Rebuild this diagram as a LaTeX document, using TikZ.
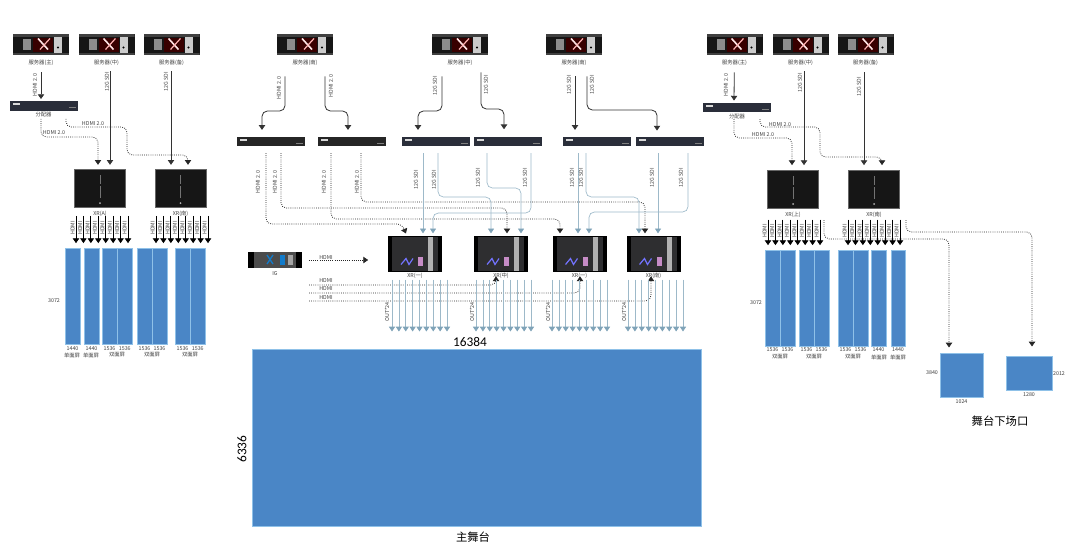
\documentclass[tikz,border=0pt]{standalone}
\usepackage{fontspec}
\setmainfont{Noto Sans CJK SC}
\newfontfamily\numfont{Carlito}
\usetikzlibrary{arrows.meta, calc}

\definecolor{panelblue}{HTML}{4A86C6}
\definecolor{paneledge}{HTML}{8FC1E8}
\definecolor{steelwire}{HTML}{9DB9C9}
\definecolor{steeltip}{HTML}{7FA3B8}
\definecolor{blackbody}{HTML}{161616}
\definecolor{procbody}{HTML}{2E2E30}
\definecolor{splitbody}{HTML}{2A2E3A}

\begin{document}
\begin{tikzpicture}[
    x=0.75pt, y=-0.75pt,
    lbl/.style={font=\fontsize{4}{4.5}\selectfont, inner sep=0pt, text=black!75},
    lblv/.style={lbl, rotate=90},
    serverbox/.style={rectangle, fill=blackbody, minimum width=42pt, minimum height=15.5pt, inner sep=0pt,
        path picture={
            \begin{scope}[shift={(path picture bounding box.center)}]
                \fill[black!75] (-28,-11) rectangle (28,-8);
                \fill[black!75] (-28,8) rectangle (28,11);
                \fill[red!22!black] (-8,-7) rectangle (12,7);
                \fill[black!45] (-18,-6) rectangle (-10,5);
                \draw[white!90!red, line width=1.2pt] (-3,-6) -- (7,5);
                \draw[white!70!red, line width=0.9pt] (9,-6) -- (-1,5);
                \fill[black!20] (13,-8) rectangle (21,8);
                \fill[black] (17,3) circle (1.2);
            \end{scope}
        }},
    xrbox/.style={rectangle, fill=blackbody, draw=black!60, line width=0.3pt, minimum width=38.5pt, minimum height=28.5pt, inner sep=0pt,
        path picture={
            \begin{scope}[shift={(path picture bounding box.center)}]
                \fill[black!55] (-0.5,-13) rectangle (0.5,-4);
                \fill[black!55] (-0.5,-2) rectangle (0.5,10);
                \fill[black!30] (0,15) circle (1);
            \end{scope}
        }},
    procbox/.style={rectangle, fill=procbody, draw=black, line width=0.3pt, minimum width=40pt, minimum height=26pt, inner sep=0pt,
        path picture={
            \begin{scope}[shift={(path picture bounding box.center)}]
                \fill[black] (-27,-18) rectangle (-23,18);
                \fill[black] (23,-18) rectangle (27,18);
                \fill[black!30] (13,-17) rectangle (18,17);
                \fill[violet!45!white] (3,3) rectangle (8,12);
                \draw[blue!55!white, line width=0.9pt] (-14,11) -- (-9,5) -- (-6,11) -- (-2,5);
            \end{scope}
        }},
    igbox/.style={rectangle, fill=black!70, minimum width=40.5pt, minimum height=12pt, inner sep=0pt,
        path picture={
            \begin{scope}[shift={(path picture bounding box.center)}]
                \fill[black] (-27,-8) rectangle (-21,8);
                \fill[black] (21,-8) rectangle (27,8);
                \draw[cyan!60!blue, line width=1pt] (-8,-5) -- (-2,4);
                \draw[cyan!60!blue, line width=1pt] (-2,-5) -- (-8,4);
                \fill[cyan!60!blue] (5,-5) rectangle (10,5);
                \fill[black!35] (13,-5) rectangle (18,5);
            \end{scope}
        }},
    splitbox/.style={rectangle, fill=#1, minimum width=51pt, minimum height=7pt, inner sep=0pt,
        path picture={
            \begin{scope}[shift={(path picture bounding box.center)}]
                \fill[white!85!black] (-31,-3) rectangle (-24,-1);
                \fill[white!50!black] (25,1) rectangle (32,2);
            \end{scope}
        }},
    splitbox/.default=splitbody,
    panel/.style={rectangle, fill=panelblue, draw=paneledge, line width=0.3pt, inner sep=0pt},
    arrow/.style={line width=0.6pt, ->, >={Triangle[length=3.6pt, width=4.8pt]}},
    sdiwire/.style={arrow, black!80, rounded corners=4pt},
    hdmiwire/.style={arrow, black!85, densely dotted, rounded corners=4pt},
    steel/.style={line width=0.5pt, steelwire, rounded corners=4pt, ->, >={Triangle[length=3.6pt, width=4.6pt, steeltip]}},
]

\useasboundingbox (0,0) rectangle (1080,550);

% Servers
\foreach \n/\x/\lab in {srvA/41/服务器(主), srvB/106.5/服务器(中), srvC/171.5/服务器(备),
                        srvD/305/服务器(南), srvE/460/服务器(中), srvF/574/服务器(南),
                        srvG/734.5/服务器(主), srvH/800.5/服务器(中), srvI/865.5/服务器(备)}
    \node (\n) [serverbox, label={[lbl, label distance=3.5pt]below:\lab}] at (\x,44.5) {};

% Splitters
\node (spA) [splitbox, label={[lbl, label distance=0.8pt]below:分配器}] at (43.5,106) {};
\node (spG) [splitbox, label={[lbl, label distance=0.8pt]below:分配器}] at (737,107.5) {};
\node (spB) [splitbox=black!85] at (271,141.5) {};
\node (spC) [splitbox=black!85] at (352,141.5) {};
\node (spD) [splitbox] at (436,141.5) {};
\node (spE) [splitbox] at (508,141.5) {};
\node (spF) [splitbox] at (597,141.5) {};
\node (spH) [splitbox] at (670,141.5) {};

% XR boxes
\foreach \n/\x/\y/\lab in {xrA/100/188/XR(A), xrB/180.5/188/XR(南), xrC/793/189/XR(上), xrD/874/189/XR(南)}
    \node (\n) [xrbox, label={[lbl, label distance=2.5pt]below:\lab}] at (\x,\y) {};

% Processors
\foreach \n/\x/\lab in {pcA/415/XR(一), pcB/501/XR(中), pcC/579.5/XR(一), pcD/653.5/XR(南)}
    \node (\n) [procbox, label={[lbl, label distance=1.5pt]below:\lab}] at (\x,253.5) {};
\node (ig) [igbox, label={[lbl, label distance=2.5pt]below:IG}] at (275,260) {};

% Screens, left
\foreach \n/\xl/\xr/\lab in {pA/65/80/1440, pB/84/99/1440, pC/102/117/1536, pD/117/132.5/1536,
                             pE/137/152/1536, pF/152/167/1536, pG/175/190/1536, pH/190/205.5/1536}
    \node (\n) [panel, minimum width=(\xr-\xl)*0.75pt, minimum height=72pt,
                label={[lbl, label distance=1.5pt]below:\lab}] at ({(\xl+\xr)/2},296) {};
% Screens, right
\foreach \n/\xl/\xr/\lab in {pI/765/780/1536, pJ/780/795/1536, pK/799/814/1536, pL/814/829/1536,
                             pM/838/853/1536, pN/853/868/1536, pO/871/886/1440, pP/891/905/1440}
    \node (\n) [panel, minimum width=(\xr-\xl)*0.75pt, minimum height=72pt,
                label={[lbl, label distance=1pt]below:\lab}] at ({(\xl+\xr)/2},298) {};

\foreach \x/\y/\lab [count=\i] in {72/355/单面屏, 91/355/单面屏, 117/355/双面屏, 152/355/双面屏, 190/355/双面屏,
                                780/357/双面屏, 814/357/双面屏, 853/357/双面屏, 879/357/单面屏, 898/357/单面屏}
    \node (sc\i) [lbl] at (\x,\y) {\lab};
\node (hA) [lbl] at (54,301) {3072};
\node (hB) [lbl] at (756,303) {3072};

% Main stage and side screens
\node (stage) [panel, minimum width=336.75pt, minimum height=132.75pt] at (476.5,437.5) {};
\node (stageW) [font=\numfont\fontsize{10}{10}\selectfont, inner sep=0pt] at (470,342) {16384};
\node (stageH) [font=\numfont\fontsize{10}{10}\selectfont, inner sep=0pt, rotate=90] at (242,449) {6336};
\node (stageT) [font=\fontsize{8.5}{9}\selectfont, inner sep=0pt] at (473,537) {主舞台};
\node (scrA) [panel, minimum width=32.25pt, minimum height=33pt, label={[lbl, label distance=1.5pt]below:1024}] at (961.5,375) {};
\node (scrB) [panel, minimum width=34.5pt, minimum height=25.5pt, label={[lbl, label distance=1.5pt]below:1280}] at (1029,373) {};
\node (scrAh) [lbl] at (932,373) {3840};
\node (scrBh) [lbl] at (1059,374) {2012};
\node (scrT) [font=\fontsize{8.5}{9}\selectfont, inner sep=0pt] at (1000,421) {舞台下场口};

% Left group
\draw [sdiwire, shorten <=13pt, shorten >=1.5pt] (srvA) -- (41,0 |- spA.north);
\draw [sdiwire, shorten <=12pt, shorten >=3pt] (110,0 |- srvB.south) -- (110,0 |- xrA.north);
\draw [sdiwire, shorten <=12pt, shorten >=3pt] (171,0 |- srvC.south) -- (171,0 |- xrB.north);
\draw [hdmiwire, shorten <=6pt, shorten >=3pt] (41,0 |- spA.south) -- (41,137) -- (98,137) -- (98,0 |- xrA.north);
\draw [hdmiwire, shorten <=6pt, shorten >=3pt] (66,0 |- spA.south) -- (66,127) -- (127,127) -- (127,155) -- (188,155) -- (188,0 |- xrB.north);

% Right group
\draw [sdiwire, shorten <=13pt, shorten >=1.5pt] (srvG) -- (734,0 |- spG.north);
\draw [sdiwire, shorten <=12pt, shorten >=3.5pt] (804,0 |- srvH.south) -- (804,0 |- xrC.north);
\draw [sdiwire, shorten <=13pt, shorten >=3.5pt] (864,0 |- srvI.south) -- (864,0 |- xrD.north);
\draw [hdmiwire, shorten <=5pt, shorten >=3.5pt] (734,0 |- spG.south) -- (734,138) -- (792,138) -- (792,0 |- xrC.north);
\draw [hdmiwire, shorten <=5pt, shorten >=3.5pt] (760,0 |- spG.south) -- (760,127) -- (820,127) -- (820,157) -- (882,157) -- (882,0 |- xrD.north);

% Server to splitter, middle group
\draw [sdiwire, shorten <=16pt, shorten >=5pt] (285,0 |- srvD.south) -- (285,111) -- (262,111) -- (262,0 |- spB.north);
\draw [sdiwire, shorten <=16pt, shorten >=5pt] (325,0 |- srvD.south) -- (325,111) -- (348,111) -- (348,0 |- spC.north);
\draw [sdiwire, shorten <=16pt, shorten >=5pt] (442,0 |- srvE.south) -- (442,111) -- (418,111) -- (418,0 |- spD.north);
\draw [sdiwire, shorten <=13pt, shorten >=5.5pt] (481,0 |- srvE.south) -- (481,109) -- (504,109) -- (504,0 |- spE.north);
\draw [sdiwire, shorten <=16pt, shorten >=5pt] (575,0 |- srvF.south) -- (575,0 |- spF.north);
\draw [sdiwire, shorten <=16pt, shorten >=4.5pt] (587,0 |- srvF.south) -- (587,110) -- (657,110) -- (657,0 |- spH.north);

% HDMI splitters to processors
\draw [hdmiwire, shorten <=5pt, shorten >=2pt] (266,0 |- spB.south) -- (266,224) -- (402,224) -- (407,0 |- pcA.north);
\draw [hdmiwire, shorten <=5pt, shorten >=2pt] (281,0 |- spB.south) -- (281,208) -- (507,208) -- (507,0 |- pcB.north);
\draw [hdmiwire, shorten <=5pt, shorten >=2pt] (331,0 |- spC.south) -- (331,219) -- (560,219) -- (560,0 |- pcC.north);
\draw [hdmiwire, shorten <=5pt, shorten >=2pt] (361,0 |- spC.south) -- (361,202) -- (645,202) -- (645,0 |- pcD.north);

% SDI splitters to processors
\draw [steel, shorten <=5pt, shorten >=2pt] (423,0 |- spD.south) -- (423,0 |- pcA.north);
\draw [steel, shorten <=5pt, shorten >=2pt] (438,0 |- spD.south) -- (438,197) -- (491,197) -- (491,0 |- pcB.north);
\draw [steel, shorten <=5pt, shorten >=2pt] (487,0 |- spE.south) -- (487,188) -- (521,188) -- (521,0 |- pcB.north);
\draw [steel, shorten <=5pt, shorten >=2pt] (531,0 |- spE.south) -- (531,213) -- (433,213) -- (433,0 |- pcA.north);
\draw [steel, shorten <=5pt, shorten >=2pt] (578,0 |- spF.south) -- (578,0 |- pcC.north);
\draw [steel, shorten <=5pt, shorten >=2pt] (586,0 |- spF.south) -- (586,197) -- (639,197) -- (639,0 |- pcD.north);
\draw [steel, shorten <=5pt, shorten >=2pt] (658,0 |- spH.south) -- (658,0 |- pcD.north);
\draw [steel, shorten <=5pt, shorten >=2pt] (688,0 |- spH.south) -- (688,212) -- (589,212) -- (589,0 |- pcC.north);

% IG lines
\coordinate (igB) at (309,285);
\coordinate (igC) at (309,293);
\coordinate (igD) at (309,301);
\draw [hdmiwire, shorten <=5pt, shorten >=15pt] (ig.east) -- (ig.east -| pcA.west);
\draw [hdmiwire, shorten >=4pt] (igB) -- (496,285) -- (496,0 |- pcB.south);
\draw [hdmiwire, shorten >=4pt] (igC) -- (580,293) -- (580,0 |- pcC.south);
\draw [hdmiwire, shorten >=4pt] (igD) -- (651,301) -- (651,0 |- pcD.south);

% Outputs to the stage
\foreach \n/\xs in {pcA/392, pcB/476, pcC/552, pcD/628}
    \foreach \i in {0,...,8}
        \draw [steel, shorten <=6.5pt, shorten >=13pt] ({\xs+\i*6.875},0 |- \n.south) -- ({\xs+\i*6.875},0 |- stage.north);

% Outputs to the LED screens
\foreach \n/\t/\xs/\sh/\ym in {xrA/pA/76/6.5/228, xrB/pA/156/6.5/228, xrC/pI/768/8.5/231, xrD/pI/848/8.5/231}
    \foreach \i in {0,...,7} {
        \draw [sdiwire, black, shorten <=\sh pt, shorten >=3.5pt] ({\xs+\i*7.43},0 |- \n.south) -- ({\xs+\i*7.43},0 |- \t.north);
        \node (o\n\i) [lblv] at ({\xs+\i*7.43-3.3},\ym) {HDMI};
    }

% Side screens
\coordinate (dsA) at (824,220);
\coordinate (dsB) at (906,220);
\draw [hdmiwire, shorten >=4pt] (dsA) -- (824,239) -- (949,239) -- (949,0 |- scrA.north);
\draw [hdmiwire, shorten >=7pt] (dsB) -- (906,232) -- (1032,232) -- (1032,0 |- scrB.north);

% Wire labels
\foreach \x/\y/\lab [count=\i] in {35/85/HDMI 2.0, 107/82/12G SDI, 166/82/12G SDI,
        726/85/HDMI 2.0, 800/83/12G SDI, 859/87/12G SDI,
        279/88/HDMI 2.0, 331/86/HDMI 2.0, 435/86/12G SDI, 486/85/12G SDI, 569/85/12G SDI, 592/85/12G SDI,
        258/182/HDMI 2.0, 275/182/HDMI 2.0, 324/182/HDMI 2.0, 357/182/HDMI 2.0,
        416/180/12G SDI, 434/180/12G SDI, 478/178/12G SDI, 525/178/12G SDI,
        572/178/12G SDI, 581/178/12G SDI, 652/178/12G SDI, 681/178/12G SDI,
        387/312/OUT*24, 472/312/OUT*24, 548/312/OUT*24, 624/312/OUT*24}
    \node (wl\i) [lblv] at (\x,\y) {\lab};
\foreach \x/\y/\lab [count=\i] in {54/133/HDMI 2.0, 93/124/HDMI 2.0, 763/135/HDMI 2.0, 780/125/HDMI 2.0,
        326/258/HDMI, 326/281/HDMI, 326/289/HDMI, 326/298/HDMI}
    \node (hl\i) [lbl] at (\x,\y) {\lab};

\end{tikzpicture}
\end{document}
